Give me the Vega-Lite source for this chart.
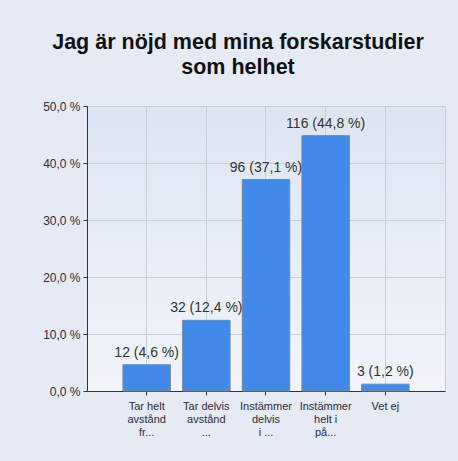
{
  "$schema": "https://vega.github.io/schema/vega-lite/v6.json",
  "autosize": "none",
  "width": 358,
  "height": 285,
  "padding": {"left": 87, "top": 106, "right": 13, "bottom": 70},
  "background": "#e5eaf5",
  "title": {
    "text": ["Jag är nöjd med mina forskarstudier", "som helhet"],
    "font": "Liberation Sans",
    "fontSize": 21.5,
    "fontWeight": "bold",
    "color": "#111111",
    "lineHeight": 25,
    "anchor": "middle",
    "dx": -28,
    "offset": 22
  },
  "config": {
    "view": {
      "stroke": "#c8cdd6",
      "fill": {
        "gradient": "linear",
        "x1": 0, "y1": 0, "x2": 0, "y2": 1,
        "stops": [
          {"offset": 0, "color": "#dde5f2"},
          {"offset": 1, "color": "#f1f4fa"}
        ]
      }
    },
    "axis": {
      "labelFont": "Liberation Sans",
      "domainColor": "#333333",
      "tickColor": "#333333",
      "gridColor": "#c8cdd6",
      "labelColor": "#2b2b3a"
    }
  },
  "data": {
    "values": [
      {"kategori": "Tar helt|avstånd|fr...", "andel": 4.6, "etikett": "12 (4,6 %)"},
      {"kategori": "Tar delvis|avstånd|...", "andel": 12.4, "etikett": "32 (12,4 %)"},
      {"kategori": "Instämmer|delvis|i ...", "andel": 37.1, "etikett": "96 (37,1 %)"},
      {"kategori": "Instämmer|helt i|på...", "andel": 44.8, "etikett": "116 (44,8 %)"},
      {"kategori": "Vet ej", "andel": 1.2, "etikett": "3 (1,2 %)"}
    ]
  },
  "encoding": {
    "x": {
      "field": "kategori",
      "type": "nominal",
      "sort": null,
      "scale": {"paddingInner": 0.204, "paddingOuter": 0.602},
      "axis": {
        "title": null,
        "labelAngle": 0,
        "grid": true,
        "bandPosition": 0.5,
        "tickSize": 4,
        "labelPadding": 5,
        "labelFontSize": 11,
        "labelLineHeight": 13,
        "labelExpr": "split(datum.label, '|')"
      }
    },
    "y": {
      "field": "andel",
      "type": "quantitative",
      "scale": {"domain": [0, 50]},
      "axis": {
        "title": null,
        "values": [0, 10, 20, 30, 40, 50],
        "tickSize": 4,
        "labelPadding": 3,
        "labelFontSize": 12,
        "labelExpr": "replace(format(datum.value, '.1f'), '.', ',') + ' %'"
      }
    }
  },
  "layer": [
    {
      "mark": {"type": "bar", "fill": "#418aea", "stroke": "#7a889e", "strokeWidth": 1}
    },
    {
      "mark": {"type": "text", "font": "Liberation Sans", "fontSize": 14, "color": "#333333", "baseline": "alphabetic", "dy": -8},
      "encoding": {"text": {"field": "etikett"}}
    }
  ]
}
